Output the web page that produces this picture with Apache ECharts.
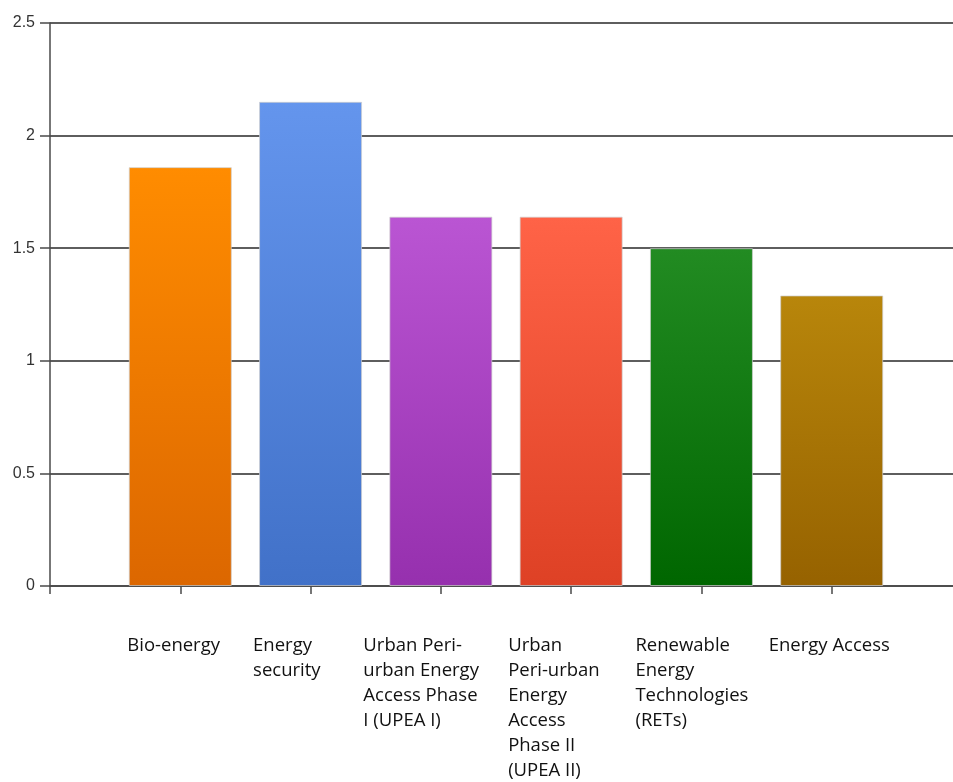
<!DOCTYPE html>
<html>
<head>
<meta charset="utf-8">
<script src="https://cdn.jsdelivr.net/npm/echarts@6/dist/echarts.min.js"></script>
<style>
  html, body { margin: 0; padding: 0; background: #fff; }
  #chart { width: 953px; height: 782px; }
</style>
</head>
<body>
<div id="chart"></div>
<script>
// ---- data ----
const categories = [
  'Bio-energy',
  'Energy\nsecurity',
  'Urban Peri-\nurban Energy\nAccess Phase\nI (UPEA I)',
  'Urban\nPeri-urban\nEnergy\nAccess\nPhase II\n(UPEA II)',
  'Renewable\nEnergy\nTechnologies\n(RETs)',
  'Energy Access'
];
const values = [1.86, 2.15, 1.64, 1.64, 1.50, 1.29];
const yTicks = [0, 0.5, 1, 1.5, 2, 2.5];

// ---- styles ----
const topColors = ['#FF8C00', '#6495ED', '#BA55D3', '#FF6347', '#228B22', '#B8860B'];
const bottomColors = ['#DC6700', '#4171C8', '#9630AE', '#DE4125', '#006600', '#966200'];
const labelBoxWidths = [106, 115, 155, 126, 132, 126];

const chart = echarts.init(document.getElementById('chart'), null, { renderer: 'canvas' });

const rich = {};
labelBoxWidths.forEach((w, i) => {
  rich['c' + (i + 1)] = {
    width: w,
    align: 'left',
    fontFamily: 'Open Sans',
    fontSize: 18.5,
    lineHeight: 25,
    color: '#111'
  };
});

const barData = values.map((v, i) => ({
  value: [i + 1, v],
  itemStyle: {
    color: new echarts.graphic.LinearGradient(0, 0, 0, 1, [
      { offset: 0, color: topColors[i] },
      { offset: 1, color: bottomColors[i] }
    ])
  }
}));

chart.setOption({
  animation: false,
  backgroundColor: '#ffffff',
  grid: {
    left: 50, top: 23, right: -9, bottom: 196,
    containLabel: false,
    outerBoundsMode: 'none'
  },
  xAxis: {
    type: 'value',
    min: 0,
    max: categories.length + 1,
    interval: 1,
    splitLine: { show: false },
    axisLine: { show: true, lineStyle: { color: '#4a4a4a', width: 1.5 } },
    axisTick: { show: true, length: 8, lineStyle: { color: '#4a4a4a', width: 1.5 } },
    axisLabel: {
      show: true,
      margin: 47,
      showMinLabel: true,
      showMaxLabel: true,
      verticalAlign: 'top',
      formatter: function (val) {
        const idx = Math.round(val);
        if (idx < 1 || idx > categories.length) return '';
        return '{c' + idx + '|' + categories[idx - 1] + '}';
      },
      rich: rich
    }
  },
  yAxis: {
    type: 'value',
    min: yTicks[0],
    max: yTicks[yTicks.length - 1],
    interval: 0.5,
    axisLine: { show: true, lineStyle: { color: '#4a4a4a', width: 1.5 } },
    axisTick: { show: true, length: 10, lineStyle: { color: '#4a4a4a', width: 1.5 } },
    splitLine: { show: true, lineStyle: { color: '#5e5e5e', width: 2 } },
    axisLabel: {
      margin: 15,
      fontFamily: 'Liberation Sans',
      fontSize: 16,
      color: '#333',
      formatter: function (v) { return String(v); }
    }
  },
  series: [{
    type: 'bar',
    barWidth: 103,
    data: barData,
    itemStyle: { borderColor: 'rgba(205,205,205,0.7)', borderWidth: 1 }
  }]
});
</script>
</body>
</html>
